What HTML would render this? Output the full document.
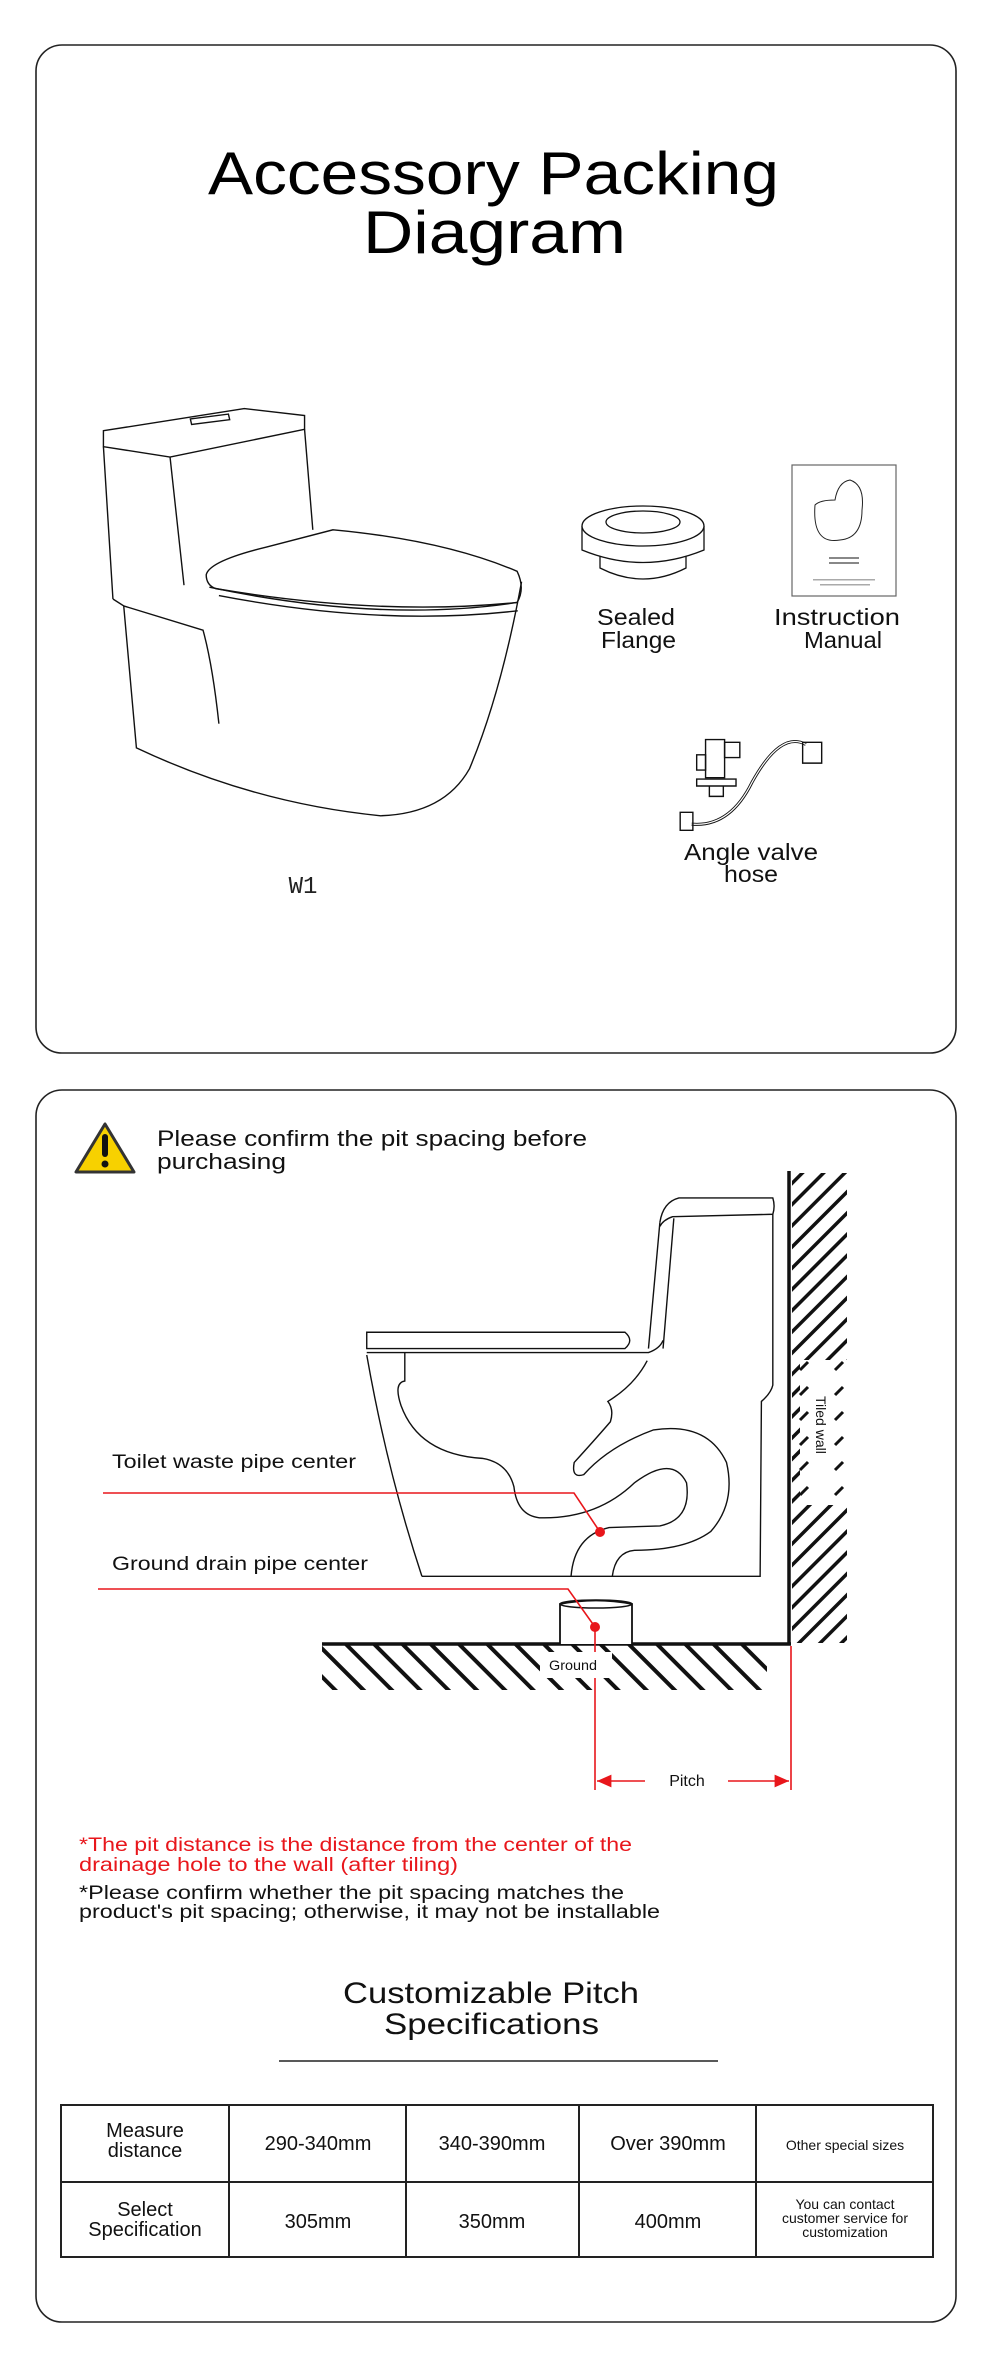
<!DOCTYPE html>
<html><head><meta charset="utf-8"><style>
html,body{margin:0;padding:0;background:#fff;}
svg{display:block;font-family:"Liberation Sans",sans-serif;}
</style></head><body>
<svg width="990" height="2356" viewBox="0 0 990 2356" xmlns="http://www.w3.org/2000/svg">
<defs>
<pattern id="hf" width="20" height="20" patternUnits="userSpaceOnUse" patternTransform="rotate(-45)">
<rect x="0" y="0" width="4" height="20" fill="#111"/></pattern>
<pattern id="hw" width="15" height="15" patternUnits="userSpaceOnUse" patternTransform="rotate(45)">
<rect x="0" y="0" width="3.5" height="15" fill="#111"/></pattern>
<marker id="ar" markerWidth="10" markerHeight="10" refX="9" refY="5" orient="auto"><path d="M0,1 L9,5 L0,9 Z" fill="#e8161b"/></marker>
</defs>
<rect width="990" height="2356" fill="#fff"/>
<!-- Panel 1 -->
<rect x="36" y="45" width="920" height="1008" rx="26" fill="none" stroke="#222" stroke-width="1.6"/>
<text x="208" y="194" font-size="60" fill="#000" textLength="571" lengthAdjust="spacingAndGlyphs">Accessory Packing</text>
<text x="363" y="253" font-size="60" fill="#000" textLength="263" lengthAdjust="spacingAndGlyphs">Diagram</text>

<g transform="scale(0.6345,0.6925)" fill="none" stroke="#111" stroke-width="1.4">
<path vector-effect="non-scaling-stroke" d="M163,622 L385,590 L480,600 L480,620 L268,660 L163,645 Z"/>
<path vector-effect="non-scaling-stroke" d="M300,605 L360,598 L362,606 L302,613 Z"/>
<path vector-effect="non-scaling-stroke" d="M163,645 L178,865 M268,660 L290,845 M480,620 L493,765"/>
<path vector-effect="non-scaling-stroke" fill="#fff" d="M325,830 Q330,810 420,790 L525,765 Q700,780 815,825 Q828,850 815,870 Q600,890 340,850 Q325,845 325,830 Z"/>
<path vector-effect="non-scaling-stroke" d="M330,848 Q600,900 815,870 M345,860 Q600,905 816,882"/>
<path vector-effect="non-scaling-stroke" d="M178,865 L195,875 L215,1080 Q400,1160 600,1178 Q700,1175 740,1110 Q790,1000 822,840"/>
<path vector-effect="non-scaling-stroke" d="M195,875 L320,910 Q335,960 345,1045"/>
<path vector-effect="non-scaling-stroke" stroke-width="3" d="M1090,1190 Q1150,1195 1185,1130 Q1230,1055 1270,1075"/>
<path vector-effect="non-scaling-stroke" stroke="#fff" stroke-width="1.2" d="M1090,1190 Q1150,1195 1185,1130 Q1230,1055 1270,1075"/>
<rect vector-effect="non-scaling-stroke" x="1072" y="1173" width="20" height="26"/>
<rect vector-effect="non-scaling-stroke" x="1265" y="1072" width="30" height="30"/>
<rect vector-effect="non-scaling-stroke" x="1112" y="1068" width="30" height="55"/>
<rect vector-effect="non-scaling-stroke" x="1142" y="1072" width="24" height="22"/>
<rect vector-effect="non-scaling-stroke" x="1098" y="1090" width="14" height="22"/>
<path vector-effect="non-scaling-stroke" d="M1098,1125 L1160,1125 L1160,1135 L1098,1135 Z M1118,1135 L1118,1150 L1140,1150 L1140,1135"/>
</g>
<g fill="none" stroke="#111" stroke-width="1.3">
<path d="M600,545 L600,568 Q643,590 686,568 L686,545"/>
<path d="M582,526 L582,550 Q643,575 704,550 L704,526" fill="#fff"/>
<ellipse cx="643" cy="526" rx="61" ry="20" fill="#fff"/>
<ellipse cx="643" cy="522" rx="37" ry="11"/>
</g>
<rect x="792" y="465" width="104" height="131" fill="#fff" stroke="#666" stroke-width="1.2"/>
<g fill="none" stroke="#222" stroke-width="1">
<path d="M815,505 Q812,545 840,540 Q862,538 862,510 Q865,485 850,480 Q838,482 835,500 Q820,500 815,505 Z"/>
</g>
<rect x="829" y="557" width="30" height="2" fill="#888"/><rect x="829" y="562" width="30" height="2" fill="#888"/>
<rect x="813" y="579" width="62" height="1.5" fill="#aaa"/><rect x="820" y="584" width="50" height="1.5" fill="#aaa"/>
<g font-size="23" fill="#111">
<text x="597" y="625" textLength="78" lengthAdjust="spacingAndGlyphs">Sealed</text><text x="601" y="648" textLength="75" lengthAdjust="spacingAndGlyphs">Flange</text>
<text x="774" y="625" textLength="126" lengthAdjust="spacingAndGlyphs">Instruction</text><text x="804" y="648" textLength="78" lengthAdjust="spacingAndGlyphs">Manual</text>
<text x="684" y="860" textLength="134" lengthAdjust="spacingAndGlyphs">Angle valve</text><text x="724" y="882" textLength="54" lengthAdjust="spacingAndGlyphs">hose</text>
</g>
<text x="303" y="893" font-size="24" text-anchor="middle" fill="#222" font-family="Liberation Mono, monospace">W1</text>

<!-- Panel 2 -->
<rect x="36" y="1090" width="920" height="1232" rx="26" fill="none" stroke="#222" stroke-width="1.6"/>
<path d="M105,1124 L76,1172 L134,1172 Z" fill="#f7d100" stroke="#333" stroke-width="3" stroke-linejoin="round"/>
<rect x="102" y="1134" width="6" height="23" rx="3" fill="#111"/><circle cx="105" cy="1164" r="3.5" fill="#111"/>
<text x="157" y="1146" font-size="22" fill="#111" textLength="430" lengthAdjust="spacingAndGlyphs">Please confirm the pit spacing before</text>
<text x="157" y="1169" font-size="22" fill="#111" textLength="129" lengthAdjust="spacingAndGlyphs">purchasing</text>

<rect x="792" y="1173" width="55" height="470" fill="url(#hw)"/>
<rect x="800" y="1360" width="48" height="145" fill="#fff"/>
<path d="M800,1370 l8,-8 M800,1395 l8,-8 M800,1420 l8,-8 M800,1445 l8,-8 M800,1470 l8,-8 M800,1495 l8,-8 M835,1370 l8,-8 M835,1395 l8,-8 M835,1420 l8,-8 M835,1445 l8,-8 M835,1470 l8,-8 M835,1495 l8,-8" stroke="#111" stroke-width="3"/>
<text transform="translate(816,1396) rotate(90)" font-size="14" fill="#111">Tiled wall</text>
<rect x="322" y="1645" width="445" height="45" fill="url(#hf)"/>
<rect x="540" y="1652" width="72" height="26" fill="#fff"/>
<line x1="789" y1="1171" x2="789" y2="1645" stroke="#111" stroke-width="3.5"/>
<line x1="322" y1="1644" x2="791" y2="1644" stroke="#111" stroke-width="3.5"/>
<path d="M560,1644 L560,1604 Q596,1597 632,1604 L632,1644" fill="#fff" stroke="#111" stroke-width="1.8"/>
<ellipse cx="596" cy="1604" rx="36" ry="4" fill="none" stroke="#111" stroke-width="1.5"/>

<g transform="translate(0,1080) scale(0.6345,0.8137)" fill="none" stroke="#111" stroke-width="1.4">
<path vector-effect="non-scaling-stroke" d="M1040,175 Q1045,150 1070,145 L1218,145 Q1222,155 1218,165 L1060,168 Q1045,172 1040,180"/>
<path vector-effect="non-scaling-stroke" d="M1040,175 L1022,330 M1062,170 L1045,330"/>
<path vector-effect="non-scaling-stroke" d="M1218,165 L1218,375 Q1215,385 1200,395 L1198,610 L665,610"/>
<path vector-effect="non-scaling-stroke" d="M578,310 L985,310 Q1000,320 985,330 L578,330 Z"/>
<path vector-effect="non-scaling-stroke" d="M578,335 L1022,335 Q1040,330 1045,320"/>
<path vector-effect="non-scaling-stroke" d="M578,338 Q610,480 665,610"/>
<path vector-effect="non-scaling-stroke" d="M638,335 L638,370 Q620,372 632,400 Q660,460 760,465 Q800,470 810,500 Q815,535 850,538 Q940,540 1000,495 Q1060,460 1082,495 Q1090,540 1040,548 L960,550 Q905,560 900,610"/>
<path vector-effect="non-scaling-stroke" d="M965,610 Q970,580 1000,578 Q1080,578 1120,555 Q1160,520 1145,470 Q1115,420 1030,430 Q960,450 920,485 Q900,490 905,470 Q940,440 962,420 Q968,405 958,395 Q1000,375 1020,345"/>
</g>

<g stroke="#e8161b" stroke-width="1.6" fill="none">
<path d="M103,1493 L574,1493 L600,1532"/>
<path d="M98,1589 L568,1589 L595,1627"/>
<line x1="595" y1="1627" x2="595" y2="1652"/>
<line x1="595" y1="1678" x2="595" y2="1790"/>
<line x1="791" y1="1646" x2="791" y2="1790"/>
<line x1="645" y1="1781" x2="597" y2="1781" marker-end="url(#ar)"/>
<line x1="728" y1="1781" x2="789" y2="1781" marker-end="url(#ar)"/>
</g>
<text x="549" y="1670" font-size="14" fill="#111" textLength="48" lengthAdjust="spacingAndGlyphs">Ground</text>
<circle cx="600" cy="1532" r="5" fill="#e8161b"/>
<circle cx="595" cy="1627" r="5" fill="#e8161b"/>
<text x="112" y="1468" font-size="19" fill="#111" textLength="244" lengthAdjust="spacingAndGlyphs">Toilet waste pipe center</text>
<text x="112" y="1570" font-size="19" fill="#111" textLength="256" lengthAdjust="spacingAndGlyphs">Ground drain pipe center</text>
<text x="687" y="1786" font-size="16" text-anchor="middle" fill="#111">Pitch</text>

<g font-size="19">
<text x="79" y="1851" fill="#e8161b" textLength="553" lengthAdjust="spacingAndGlyphs">*The pit distance is the distance from the center of the</text>
<text x="79" y="1871" fill="#e8161b" textLength="379" lengthAdjust="spacingAndGlyphs">drainage hole to the wall (after tiling)</text>
<text x="79" y="1899" fill="#111" textLength="545" lengthAdjust="spacingAndGlyphs">*Please confirm whether the pit spacing matches the</text>
<text x="79" y="1918" fill="#111" textLength="581" lengthAdjust="spacingAndGlyphs">product's pit spacing; otherwise, it may not be installable</text>
</g>
<text x="343" y="2003" font-size="30" fill="#111" textLength="296" lengthAdjust="spacingAndGlyphs">Customizable Pitch</text>
<text x="384" y="2034" font-size="30" fill="#111" textLength="215" lengthAdjust="spacingAndGlyphs">Specifications</text>
<line x1="279" y1="2061" x2="718" y2="2061" stroke="#222" stroke-width="1.5"/>

<g stroke="#222" stroke-width="2" fill="none">
<rect x="61" y="2105" width="872" height="152"/>
<line x1="61" y1="2182" x2="933" y2="2182"/>
<line x1="229" y1="2105" x2="229" y2="2257"/>
<line x1="406" y1="2105" x2="406" y2="2257"/>
<line x1="579" y1="2105" x2="579" y2="2257"/>
<line x1="756" y1="2105" x2="756" y2="2257"/>
</g>
<g font-size="20" text-anchor="middle" fill="#111">
<text x="145" y="2137">Measure</text><text x="145" y="2157">distance</text>
<text x="318" y="2150">290-340mm</text><text x="492" y="2150">340-390mm</text><text x="668" y="2150">Over 390mm</text>
<text x="145" y="2216">Select</text><text x="145" y="2236">Specification</text>
<text x="318" y="2228">305mm</text><text x="492" y="2228">350mm</text><text x="668" y="2228">400mm</text>
</g>
<g font-size="14" text-anchor="middle" fill="#111">
<text x="845" y="2150">Other special sizes</text>
<text x="845" y="2209">You can contact</text><text x="845" y="2223">customer service for</text><text x="845" y="2237">customization</text>
</g>
</svg>
</body></html>
